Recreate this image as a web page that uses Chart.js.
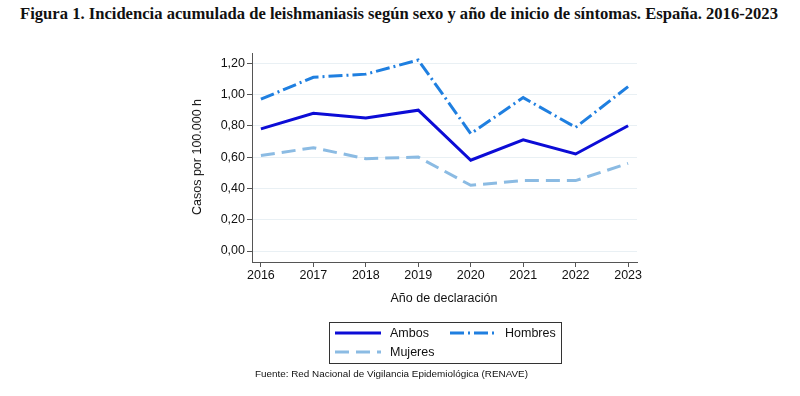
<!DOCTYPE html>
<html>
<head>
<meta charset="utf-8">
<script src="https://cdn.jsdelivr.net/npm/chart.js@4"></script>
<style>
  body { margin:0; background:#fff; width:800px; height:396px; position:relative; overflow:hidden; font-family:"Liberation Sans", Arial, sans-serif; color:#111; }
  #title { position:absolute; left:0; top:4px; width:798px; text-align:center; font-family:"Liberation Serif", serif; font-weight:bold; font-size:16.6px; white-space:nowrap; }
  #chart { position:absolute; left:0; top:0; }
  .ytitle { position:absolute; left:197px; top:157px; transform:translate(-50%,-50%) rotate(-90deg); font-size:12.5px; white-space:nowrap; }
  .xtitle { position:absolute; left:444px; top:298px; transform:translate(-50%,-50%); font-size:12.5px; white-space:nowrap; }
  #legend { position:absolute; left:329px; top:322px; width:231px; height:40px; border:1px solid #333; font-size:12.5px; }
  .item { position:absolute; display:flex; align-items:center; }
  .item svg { margin-right:9px; }
  #foot { position:absolute; left:255px; top:368px; font-size:9.9px; white-space:nowrap; }
</style>
</head>
<body>
<div id="title">Figura 1. Incidencia acumulada de leishmaniasis según sexo y año de inicio de síntomas. España. 2016-2023</div>
<canvas id="chart" width="800" height="396"></canvas>
<div class="ytitle">Casos por 100.000 h</div>
<div class="xtitle">Año de declaración</div>
<div id="legend"></div>
<div id="foot">Fuente: Red Nacional de Vigilancia Epidemiológica (RENAVE)</div>
<script>
const years = [2016, 2017, 2018, 2019, 2020, 2021, 2022, 2023];
const ambos = [0.78, 0.88, 0.85, 0.90, 0.58, 0.71, 0.62, 0.80];
const hombres = [0.97, 1.11, 1.13, 1.22, 0.75, 0.98, 0.79, 1.05];
const mujeres = [0.61, 0.66, 0.59, 0.60, 0.42, 0.45, 0.45, 0.56];
const yTicks = [0, 0.2, 0.4, 0.6, 0.8, 1.0, 1.2];

const series = [
  { label: "Ambos", data: ambos, color: "#0c0cd6", dash: [] },
  { label: "Hombres", data: hombres, color: "#1f7fe0", dash: [14, 4, 2, 4] },
  { label: "Mujeres", data: mujeres, color: "#8bbbe3", dash: [14, 7] },
];

new Chart(document.getElementById("chart"), {
  type: "line",
  data: {
    datasets: series.map((s) => ({
      label: s.label,
      data: years.map((y, i) => ({ x: y, y: s.data[i] })),
      borderColor: s.color,
      borderDash: s.dash,
      borderWidth: 3,
      pointRadius: 0,
      tension: 0,
    })),
  },
  options: {
    responsive: false,
    animation: false,
    layout: { padding: { left: 0, top: 53, right: 163, bottom: 0 } },
    plugins: { legend: { display: false }, tooltip: { enabled: false } },
    scales: {
      x: {
        type: "linear",
        min: 2015.83,
        max: 2023.17,
        afterBuildTicks: (sc) => { sc.ticks = years.map((v) => ({ value: v })); },
        afterFit: (sc) => { sc.height = 396 - 262; },
        ticks: { color: "#111", font: { size: 12.5, family: "Liberation Sans" }, padding: 1, callback: (v) => String(v), maxRotation: 0 },
        grid: { drawOnChartArea: false, tickLength: 5, tickColor: "#555" },
        border: { color: "#555", width: 1 },
      },
      y: {
        min: -0.07,
        max: 1.265,
        afterBuildTicks: (sc) => { sc.ticks = yTicks.map((v) => ({ value: v })); },
        afterFit: (sc) => { sc.width = 252; },
        ticks: { color: "#111", font: { size: 12.5, family: "Liberation Sans" }, padding: 2, callback: (v) => v.toFixed(2).replace(".", ",") },
        grid: { color: "#e9f0f4", tickLength: 5, tickColor: "#555" },
        border: { color: "#555", width: 1 },
      },
    },
  },
});

// legend
const legend = document.getElementById("legend");
const pos = [[5, 3], [120, 3], [5, 22]];
series.forEach((s, i) => {
  const el = document.createElement("div");
  el.className = "item";
  el.style.left = pos[i][0] + "px";
  el.style.top = pos[i][1] + "px";
  el.innerHTML = `<svg width="46" height="14"><line x1="0" y1="7" x2="46" y2="7" stroke="${s.color}" stroke-width="3" stroke-dasharray="${s.dash.join(" ")}"/></svg><span>${s.label}</span>`;
  legend.appendChild(el);
});
</script>
</body>
</html>
